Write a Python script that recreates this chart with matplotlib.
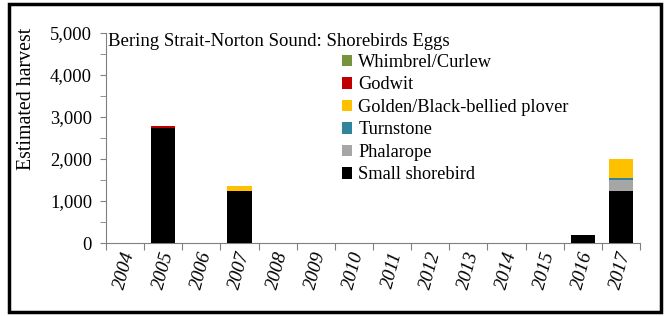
import matplotlib
matplotlib.use("Agg")
import matplotlib.pyplot as plt
from matplotlib.patches import Rectangle
import numpy as np

years = ["2004", "2005", "2006", "2007", "2008", "2009", "2010", "2011",
         "2012", "2013", "2014", "2015", "2016", "2017"]
small_shorebird = [0, 2730, 0, 1240, 0, 0, 0, 0, 0, 0, 0, 0, 190, 1240]
phalarope       = [0, 0, 0, 0, 0, 0, 0, 0, 0, 0, 0, 0, 0, 270]
turnstone       = [0, 0, 0, 0, 0, 0, 0, 0, 0, 0, 0, 0, 0, 40]
golden_plover   = [0, 0, 0, 110, 0, 0, 0, 0, 0, 0, 0, 0, 0, 440]
godwit          = [0, 60, 0, 0, 0, 0, 0, 0, 0, 0, 0, 0, 0, 0]
whimbrel        = [0, 0, 0, 0, 0, 0, 0, 0, 0, 0, 0, 0, 0, 0]

series = [
    ("Small shorebird", small_shorebird, "#000000"),
    ("Phalarope", phalarope, "#A6A6A6"),
    ("Turnstone", turnstone, "#31849B"),
    ("Golden/Black-bellied plover", golden_plover, "#FFC000"),
    ("Godwit", godwit, "#C00000"),
    ("Whimbrel/Curlew", whimbrel, "#77933C"),
]

plt.rcParams['font.family'] = ['Liberation Serif', 'DejaVu Serif']

fig = plt.figure(figsize=(6.64, 3.16), dpi=100)
ax = fig.add_axes([106/664, 1-243/316, (640-106)/664, (243-33)/316])

x = np.arange(len(years))
bottom = np.zeros(len(years))
handles = []
for name, vals, col in series:
    v = np.array(vals, dtype=float)
    b = ax.bar(x, v, bottom=bottom, width=0.63, color=col, label=name, zorder=3)
    handles.append(b)
    bottom += v

ax.set_xlim(-0.5, len(years) - 0.5)
ax.set_ylim(0, 5000)
ax.set_yticks(np.arange(0, 5001, 1000))
ax.set_yticklabels([f"{v:,}" for v in range(0, 5001, 1000)], fontsize=13.3)
ax.set_yticks(np.arange(500, 5000, 1000), minor=True)
ax.tick_params(axis='y', which='both', direction='out', length=4, color='#808080', pad=6)
ax.set_xticks(np.arange(-0.5, len(years), 1))
ax.set_xticklabels([])
ax.set_xticks(x, minor=True)
ax.set_xticklabels(years, minor=True, rotation=75, fontsize=13.8, style='italic')
ax.tick_params(axis='x', which='major', direction='out', length=5, color='#808080')
ax.tick_params(axis='x', which='minor', length=0, pad=5)

for s in ['top', 'right']:
    ax.spines[s].set_visible(False)
for s in ['left', 'bottom']:
    ax.spines[s].set_color('#808080')

ax.text(0.004, 1.0, "Bering Strait-Norton Sound: Shorebirds Eggs",
        transform=ax.transAxes, fontsize=13.5, va='top', ha='left')

leg_handles = handles[::-1]
leg_labels = [s[0] for s in series][::-1]
ax.legend(leg_handles, leg_labels, loc='upper left', bbox_to_anchor=(0.428, 0.935),
          frameon=False, fontsize=13.2, handlelength=0.55, handleheight=0.55,
          handletextpad=0.35, labelspacing=0.3, borderaxespad=0)

fig.text(27/664, 1-99/316, "Estimated harvest", rotation=90, fontsize=14.3,
         ha='center', va='center')

fig.patches.append(Rectangle((9/664, 4/316), (661-9)/664, (312-4)/316,
                             transform=fig.transFigure, fill=False,
                             edgecolor='black', linewidth=2.5))

fig.savefig("out.png", dpi=100)
